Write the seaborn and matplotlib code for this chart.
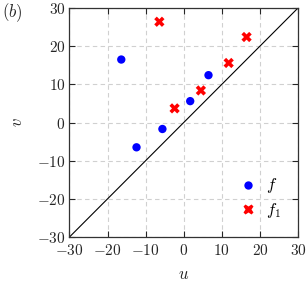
import matplotlib
matplotlib.use("Agg")
import matplotlib.pyplot as plt
import pandas as pd
import seaborn as sns

# data
f_u = [-16.4, -12.4, -5.6, 1.7, 6.5]
f_v = [16.5, -6.5, -1.7, 5.6, 12.4]
f1_u = [-6.4, -2.4, 4.5, 11.8, 16.5]
f1_v = [26.4, 3.7, 8.4, 15.6, 22.4]
ticks = [-30, -20, -10, 0, 10, 20, 30]

df = pd.concat(
    (
        pd.DataFrame({"u": f_u, "v": f_v, "series": "$f$"}),
        pd.DataFrame({"u": f1_u, "v": f1_v, "series": "$f_1$"}),
    ),
    ignore_index=True,
)

sns.set_theme(style="ticks")
plt.rcParams["mathtext.fontset"] = "cm"
plt.rcParams["font.family"] = ["DejaVu Serif"]

fig = plt.figure(figsize=(3.08, 2.82), dpi=100)
ax = fig.add_axes([0.2256, 0.1596, 0.7419, 0.812])

ax.plot(ticks, ticks, color="black", lw=0.8, zorder=2)

sns.scatterplot(
    ax=ax,
    data=df,
    x="u",
    y="v",
    hue="series",
    style="series",
    size="series",
    palette={"$f$": "blue", "$f_1$": "red"},
    markers={"$f$": "o", "$f_1$": "X"},
    sizes={"$f$": 36, "$f_1$": 55},
    edgecolor="none",
    zorder=3,
)

ax.set_xlim(-30, 30)
ax.set_ylim(-30, 30)
ax.set_xticks(ticks)
ax.set_yticks(ticks)
ax.set_xticklabels([f"${t}$" for t in ticks], fontsize=11)
ax.set_yticklabels([f"${t}$" for t in ticks], fontsize=11)
ax.tick_params(direction="in", top=True, right=True, length=4, width=0.8, pad=3)
ax.tick_params(axis="x", pad=4)
ax.grid(True, ls=(0, (4, 3)), color="#d0d0d0", lw=0.8)
for sp in ax.spines.values():
    sp.set_color("#333333")
    sp.set_linewidth(0.9)

ax.set_xlabel("$u$", fontsize=12, labelpad=6)
ax.set_ylabel("$v$", fontsize=12, labelpad=8)
fig.text(0.005, 0.955, "$(b)$", fontsize=12, va="center", ha="left")

leg = ax.legend(loc="lower right", frameon=False, fontsize=12, handletextpad=0.1,
                borderaxespad=0.6, labelspacing=0.35)
for t in leg.get_texts():
    t.set_color("black")

plt.savefig("out.png", dpi=100)
